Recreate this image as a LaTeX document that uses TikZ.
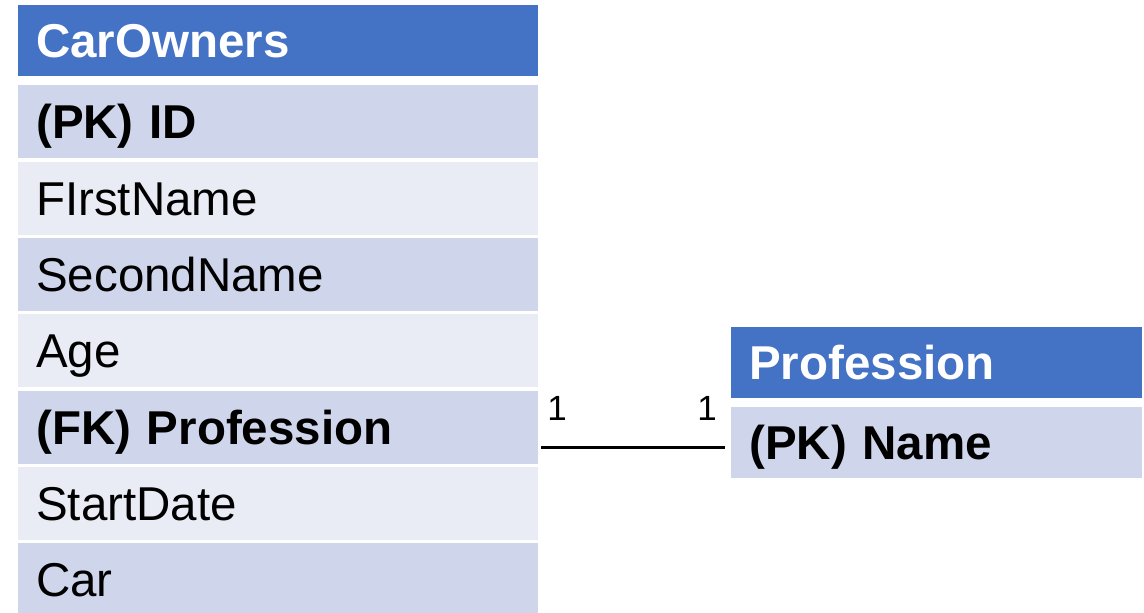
\documentclass[tikz,border=0pt]{standalone}
\usepackage{fontspec}
\setmainfont{Liberation Sans}
\definecolor{hdrblue}{HTML}{4472C4}
\definecolor{rowdark}{HTML}{CFD5EA}
\definecolor{rowlight}{HTML}{E9EBF5}
\begin{document}
\begin{tikzpicture}[x=1pt,y=-1pt,
  cell/.style={anchor=north west, inner xsep=18pt, inner ysep=0pt,
    align=left, font=\fontsize{47.5}{50}\selectfont,
    text height=34pt, text depth=0pt},
  lefttab/.style={cell, minimum width=520pt, text width=484pt},
  righttab/.style={cell, minimum width=411pt, text width=375pt},
  hdr/.style={fill=hdrblue, text=white, font=\fontsize{47.5}{50}\selectfont\bfseries, minimum height=71pt},
  dark/.style={fill=rowdark, minimum height=73pt},
  light/.style={fill=rowlight, minimum height=73pt},
  card/.style={font=\fontsize{35}{38}\selectfont, anchor=base, inner sep=0pt}]
\useasboundingbox (0,0) rectangle (1144,613);
% CarOwners table
\node[lefttab, hdr] (coh) at (18,5) {CarOwners};
\node[lefttab, dark, font=\fontsize{47.5}{50}\selectfont\bfseries] (co1) at (18,85) {(PK) ID};
\node[lefttab, light] (co2) at (18,161.3) {FIrstName};
\node[lefttab, dark] (co3) at (18,237.7) {SecondName};
\node[lefttab, light] (co4) at (18,314) {Age};
\node[lefttab, dark, font=\fontsize{47.5}{50}\selectfont\bfseries] (co5) at (18,390.3) {(FK) Profession};
\node[lefttab, light] (co6) at (18,466.7) {StartDate};
\node[lefttab, dark] (co7) at (18,543) {Car};
% Profession table
\node[righttab, hdr] (prh) at (731,327) {Profession};
\node[righttab, dark, minimum height=71pt, font=\fontsize{47.5}{50}\selectfont\bfseries] (pr1) at (731,407) {(PK) Name};
% one-to-one relationship
\coordinate (fkend) at ([xshift=3pt]co5.east |- 0,447);
\coordinate (pkend) at ([xshift=-6pt]pr1.west |- 0,447);
\draw[line width=3pt] (fkend) -- (pkend);
\node[card] (c1) at (557,420.7) {1};
\node[card] (c2) at (707,420.7) {1};
\end{tikzpicture}
\end{document}
